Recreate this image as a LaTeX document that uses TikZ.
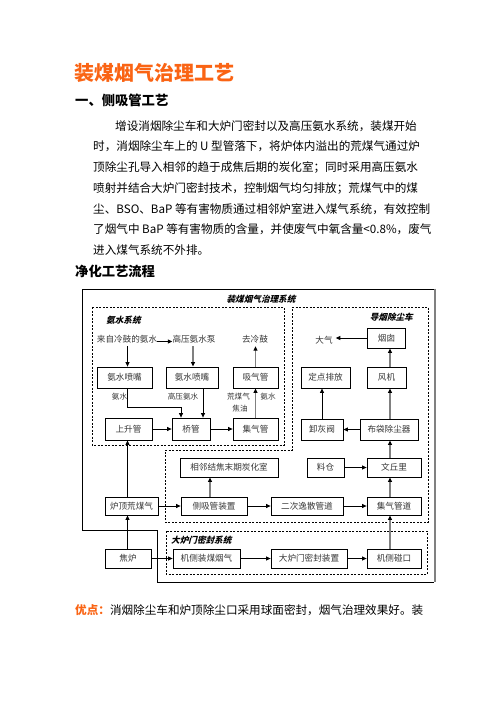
\documentclass[tikz,border=0pt]{standalone}
\usepackage{fontspec}
\setmainfont{Noto Sans CJK SC}
\newfontfamily\cjkbi{Noto Sans CJK SC}[FakeSlant=0.25]
\usetikzlibrary{arrows.meta}
\definecolor{titleorange}{RGB}{250,100,20}
\definecolor{txtgray}{RGB}{55,55,55}
\definecolor{linegray}{RGB}{128,128,128}
\begin{document}
\begin{tikzpicture}[x=1pt,y=-1pt,
  box/.style={draw,line width=0.8pt,inner sep=0pt,font=\fontsize{8.6}{9}\selectfont,text=txtgray},
  lbl/.style={inner sep=0pt,font=\fontsize{8.6}{9}\selectfont,text=txtgray},
  sys/.style={inner sep=0pt,font=\cjkbi\bfseries\fontsize{8.6}{9}\selectfont},
  arr/.style={line width=0.8pt,-{Triangle[length=4.5pt,width=4pt]}},
  garr/.style={line width=1.7pt,draw=linegray,-{Triangle[length=4.5pt,width=4pt,color=black]}},
  dbox/.style={dashed,line width=0.8pt,dash pattern=on 2pt off 1.5pt},
  body/.style={anchor=west,inner sep=0pt,font=\fontsize{11.6}{12}\selectfont}
]
\useasboundingbox[fill=white] (0,0) rectangle (496,702);

% ---------- page text ----------
\node[anchor=west,inner sep=0pt,text=titleorange,font=\bfseries\fontsize{20}{22}\selectfont] (title) at (74,73) {装煤烟气治理工艺};
\node[anchor=west,inner sep=0pt,font=\bfseries\fontsize{13.3}{14}\selectfont] (h1) at (75,100) {一、侧吸管工艺};
\node[body] (p1) at (115,126.0) {增设消烟除尘车和大炉门密封以及高压氨水系统，装煤开始};
\node[body] (p2) at (93,146.7) {时，消烟除尘车上的 U 型管落下，将炉体内溢出的荒煤气通过炉};
\node[body] (p3) at (93,167.4) {顶除尘孔导入相邻的趋于成焦后期的炭化室；同时采用高压氨水};
\node[body] (p4) at (93,188.1) {喷射并结合大炉门密封技术，控制烟气均匀排放；荒煤气中的煤};
\node[body] (p5) at (93,208.8) {尘、BSO、BaP 等有害物质通过相邻炉室进入煤气系统，有效控制};
\node[body] (p6) at (93,229.5) {了烟气中 BaP 等有害物质的含量，并使废气中氧含量<0.8\%，废气};
\node[body] (p7) at (93,250.2) {进入煤气系统不外排。};
\node[anchor=west,inner sep=0pt,font=\bfseries\fontsize{13.3}{14}\selectfont] (h2) at (75,271) {净化工艺流程};
\node[body] (adv) at (75,610) {\textcolor{titleorange}{\bfseries 优点：}消烟除尘车和炉顶除尘口采用球面密封，烟气治理效果好。装};

% ---------- frames ----------
\draw[line width=0.9pt] (434,289) -- (82.5,289) -- (82.5,530) -- (157.5,530) -- (157.5,582) -- (434,582);
\draw[line width=2pt,draw=linegray] (434.5,288.6) -- (434.5,582.4);
\draw[dbox] (92,307) rectangle (284,445);
\draw[dbox] (292,307) -- (428,307) -- (428,522) -- (165,522) -- (165,450) -- (292,450) -- cycle;
\draw[dbox] (166,531) rectangle (427,574);

\node[sys] (sysall) at (261,299) {装煤烟气治理系统};
\node[sys,anchor=west] (sysam) at (106,320) {氨水系统};
\node[sys,anchor=east] (sysdy) at (413,317) {导烟除尘车};
\node[sys,anchor=west] (sysdl) at (171,540) {大炉门密封系统};

% ---------- ammonia system ----------
\node[lbl] (t1) at (127,339) {来自冷鼓的氨水};
\node[lbl] (t2) at (194,339) {高压氨水泵};
\node[lbl] (t3) at (255,339) {去冷鼓};
\node[box,minimum width=55pt,minimum height=21pt] (nz1) at (124.5,377.5) {氨水喷嘴};
\node[box,minimum width=52pt,minimum height=21pt] (nz2) at (192,377.5) {氨水喷嘴};
\node[box,minimum width=45pt,minimum height=21pt] (xqg) at (255.5,377.5) {吸气管};
\node[box,minimum width=47pt,minimum height=22pt] (ssg) at (128.5,429) {上升管};
\node[box,minimum width=38pt,minimum height=22pt] (qg) at (191,429) {桥管};
\node[box,minimum width=45pt,minimum height=22pt] (jqg) at (255.5,429) {集气管};
\node[lbl,font=\fontsize{7.6}{8}\selectfont] (la1) at (119.5,397) {氨水};
\node[lbl,font=\fontsize{7.6}{8}\selectfont] (la2) at (183,397) {高压氨水};
\node[lbl,font=\fontsize{7.6}{8}\selectfont] (la3) at (238.5,397) {荒煤气};
\node[lbl,font=\fontsize{7.6}{8}\selectfont] (la4) at (240,409) {焦油};
\node[lbl,font=\fontsize{7.6}{8}\selectfont] (la5) at (268,397) {氨水};

% ---------- dust removal car ----------
\node[box,minimum width=38pt,minimum height=20pt] (yc) at (386.5,338) {烟囱};
\node[lbl] (dq) at (324,340) {大气};
\node[box,minimum width=39pt,minimum height=21pt] (fj) at (386.5,377.5) {风机};
\node[box,minimum width=49pt,minimum height=21pt] (ddpf) at (325.5,377.5) {定点排放};
\node[box,minimum width=42pt,minimum height=21pt] (xhf) at (322,429.5) {卸灰阀};
\node[box,minimum width=58pt,minimum height=21pt] (bd) at (389,429.5) {布袋除尘器};

% ---------- side suction ----------
\node[box,minimum width=98pt,minimum height=19pt] (xl) at (229,467.5) {相邻结焦末期炭化室};
\node[box,minimum width=37pt,minimum height=19pt] (lc) at (325.5,467.5) {料仓};
\node[box,minimum width=54pt,minimum height=19pt] (wql) at (394,467.5) {文丘里};
\node[box,minimum width=53pt,minimum height=18pt] (ldh) at (131.5,506) {炉顶荒煤气};
\node[box,minimum width=66pt,minimum height=18pt] (cxg) at (214,506) {侧吸管装置};
\node[box,minimum width=72pt,minimum height=18pt] (ecy) at (307,506) {二次逸散管道};
\node[box,minimum width=54pt,minimum height=18pt] (jqgd) at (394,506) {集气管道};

% ---------- furnace door seal ----------
\node[box,minimum width=46pt,minimum height=19pt] (jl) at (128,558.5) {焦炉};
\node[box,minimum width=67pt,minimum height=19pt] (jc) at (206.5,558.5) {机侧装煤烟气};
\node[box,minimum width=76pt,minimum height=19pt] (dlm) at (309,558.5) {大炉门密封装置};
\node[box,minimum width=54pt,minimum height=19pt] (jcpk) at (394,558.5) {机侧碰口};

% ---------- alignment coordinates ----------
\coordinate (xa) at (127.5,0);
\coordinate (xb) at (193,0);
\coordinate (xc) at (255.5,0);
\coordinate (xd) at (203,0);
\coordinate (xe) at (390,0);
\coordinate (xf) at (322,0);
\coordinate (xg) at (210,0);
\coordinate (k1) at (181,407);
\coordinate (ya) at (0,341.5);

% ---------- connectors ----------
\draw[arr] (t1.east |- ya) -- (t2.west |- ya);
\draw[arr] (t1.south -| xa) ++(0,3) -- (nz1.north -| xa);
\draw[garr] (t2.south -| xb) ++(0,3) -- (nz2.north -| xb);
\draw[garr] (xqg.north -| xc) -- ([yshift=-3pt]t3.south -| xc);
\draw[arr] (nz1.south -| xa) |- (k1) -- (qg.north -| k1);
\draw[arr] (nz2.south -| xd) -- (qg.north -| xd);
\draw[garr] (jqg.north -| xc) -- (xqg.south -| xc);
\draw[arr] (ssg) -- (qg);
\draw[arr] (qg) -- (jqg);

\draw[arr] (yc.west) -- ([xshift=3pt]dq.east |- yc.west);
\draw[garr] (fj.north -| xe) -- (yc.south -| xe);
\draw[garr] (bd.north -| xe) -- (fj.south -| xe);
\draw[arr] (xhf.north -| xf) -- (ddpf.south -| xf);
\draw[arr] (bd) -- (xhf);
\draw[garr] (wql.north -| xe) -- (bd.south -| xe);

\draw[arr] (lc) -- (wql);
\draw[garr] (cxg.north -| xg) -- (xl.south -| xg);
\draw[garr] (jqgd.north -| xe) -- (wql.south -| xe);
\draw[arr] (ldh) -- (cxg);
\draw[arr] (cxg) -- (ecy);
\draw[arr] (ecy) -- (jqgd);
\draw[arr] (ldh.north -| xa) -- (ssg.south -| xa);

\draw[arr] (jl) -- (jc);
\draw[arr] (jc) -- (dlm);
\draw[arr] (dlm) -- (jcpk);
\draw[arr] (jl.north -| xa) -- (ldh.south -| xa);
\draw[garr] (jcpk.north -| xe) -- (jqgd.south -| xe);
\end{tikzpicture}
\end{document}
